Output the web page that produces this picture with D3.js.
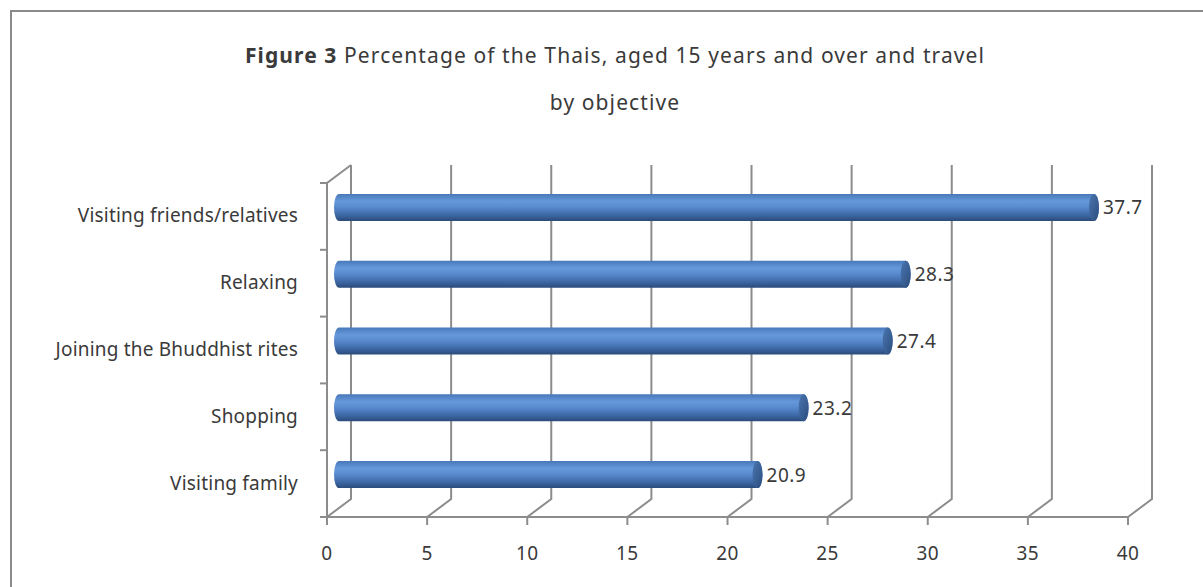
<!DOCTYPE html>
<html>
<head>
<meta charset="utf-8">
<script src="https://cdn.jsdelivr.net/npm/d3@7/dist/d3.min.js"></script>
<style>
  html, body { margin: 0; padding: 0; background: #fff; }
  svg { display: block; }
  text { font-family: "Noto Sans", "Open Sans", sans-serif; fill: #3a3a3a; }
</style>
</head>
<body>
<svg id="chart" width="1203" height="587"></svg>
<script>
// Travel objectives, top to bottom
const categories = [
  "Visiting friends/relatives",
  "Relaxing",
  "Joining the Bhuddhist rites",
  "Shopping",
  "Visiting family"
];
const values = [37.7, 28.3, 27.4, 23.2, 20.9];
const xTicks = [0, 5, 10, 15, 20, 25, 30, 35, 40];
const titleBold = "Figure 3";
const titleRest = " Percentage of the Thais, aged 15 years and over and travel";
const titleLine2 = "by objective";

const svg = d3.select("#chart");
const W = 1203, H = 587;

// Outer frame (runs off the right and bottom edges)
svg.append("rect")
  .attr("x", 11).attr("y", 11)
  .attr("width", W + 10).attr("height", H + 10)
  .attr("fill", "#fff").attr("stroke", "#8a8a8a").attr("stroke-width", 2);

// Plot geometry: front plane and the 3D depth offset to the back wall
const front = { left: 327, right: 1128, top: 183, bottom: 517 };
const depth = { dx: 24, dy: -18 };

const x = d3.scaleLinear().domain([0, 40]).range([front.left, front.right]);
const y = d3.scaleBand().domain(categories).range([front.top, front.bottom]).padding(0);

const grid = svg.append("g").attr("fill", "none").attr("stroke", "#8c8c8c").attr("stroke-width", 2);

// Gridlines: floor diagonal then vertical line on the back wall
xTicks.forEach(t => {
  const fx = x(t);
  grid.append("path")
    .attr("d", d3.line()([
      [fx, front.bottom],
      [fx + depth.dx, front.bottom + depth.dy],
      [fx + depth.dx, front.top + depth.dy]
    ]));
  // tick mark below the front axis
  grid.append("line")
    .attr("x1", fx).attr("x2", fx)
    .attr("y1", front.bottom).attr("y2", front.bottom + 8);
});

// Front bottom axis line
grid.append("line")
  .attr("x1", front.left).attr("x2", front.right)
  .attr("y1", front.bottom).attr("y2", front.bottom);

// Left front axis with top diagonal to the back wall
grid.append("path")
  .attr("d", d3.line()([
    [front.left + depth.dx, front.top + depth.dy],
    [front.left, front.top],
    [front.left, front.bottom]
  ]));

// Category boundary ticks on the left axis
const bounds = categories.map(c => y(c)).concat([front.bottom]);
bounds.forEach(b => {
  grid.append("line")
    .attr("x1", front.left - 7).attr("x2", front.left)
    .attr("y1", b).attr("y2", b);
});

// X tick labels
svg.append("g").selectAll("text").data(xTicks).join("text")
  .attr("x", d => x(d))
  .attr("y", 560)
  .attr("text-anchor", "middle")
  .attr("font-size", 19)
  .attr("letter-spacing", 0.5)
  .text(d => d);

// Category labels
svg.append("g").selectAll("text").data(categories).join("text")
  .attr("x", 298)
  .attr("y", d => y(d) + y.bandwidth() / 2 + 6)
  .attr("text-anchor", "end")
  .attr("font-size", 19)
  .attr("letter-spacing", 0.2)
  .text(d => d);

// Cylinder gradients
const defs = svg.append("defs");
const body = defs.append("linearGradient").attr("id", "cylBody")
  .attr("x1", 0).attr("y1", 0).attr("x2", 0).attr("y2", 1);
[
  [0, "#4878ba"], [0.28, "#6699dc"], [0.5, "#5889ce"],
  [0.78, "#3d68a5"], [1, "#2b4b7a"]
].forEach(([o, c]) => body.append("stop").attr("offset", o).attr("stop-color", c));

const cap = defs.append("linearGradient").attr("id", "cylCap")
  .attr("x1", 0).attr("y1", 0).attr("x2", 1).attr("y2", 1);
[[0, "#4a76b0"], [1, "#2c4d7d"]]
  .forEach(([o, c]) => cap.append("stop").attr("offset", o).attr("stop-color", c));

// Bars sit halfway into the depth
const mid = { dx: depth.dx / 2, dy: depth.dy / 2 };
const r = 13.5, rx = 5;

const bars = svg.append("g").selectAll("g").data(categories.map((c, i) => ({ c, v: values[i] }))).join("g");

bars.append("path")
  .attr("fill", "url(#cylBody)")
  .attr("d", d => {
    const cy = y(d.c) + y.bandwidth() / 2 + mid.dy;
    const x0 = x(0) + mid.dx, x1 = x(d.v) + mid.dx;
    return `M${x0},${cy - r} L${x1},${cy - r} A${rx},${r} 0 0 1 ${x1},${cy + r} ` +
           `L${x0},${cy + r} A${rx},${r} 0 0 1 ${x0},${cy - r} Z`;
  });

bars.append("ellipse")
  .attr("cx", d => x(d.v) + mid.dx)
  .attr("cy", d => y(d.c) + y.bandwidth() / 2 + mid.dy)
  .attr("rx", rx).attr("ry", r)
  .attr("fill", "url(#cylCap)");

// Value labels
bars.append("text")
  .attr("x", d => x(d.v) + mid.dx + rx + 4)
  .attr("y", d => y(d.c) + y.bandwidth() / 2 + mid.dy + 7)
  .attr("font-size", 19)
  .attr("letter-spacing", 0.5)
  .text(d => d.v.toFixed(1));

// Title
const title = svg.append("text")
  .attr("x", 615).attr("y", 63)
  .attr("text-anchor", "middle")
  .attr("font-size", 21)
  .attr("letter-spacing", 1.1);
title.append("tspan").attr("font-weight", "bold").text(titleBold);
title.append("tspan").text(titleRest);

svg.append("text")
  .attr("x", 615).attr("y", 110)
  .attr("text-anchor", "middle")
  .attr("font-size", 21)
  .attr("letter-spacing", 1.1)
  .text(titleLine2);
</script>
</body>
</html>
